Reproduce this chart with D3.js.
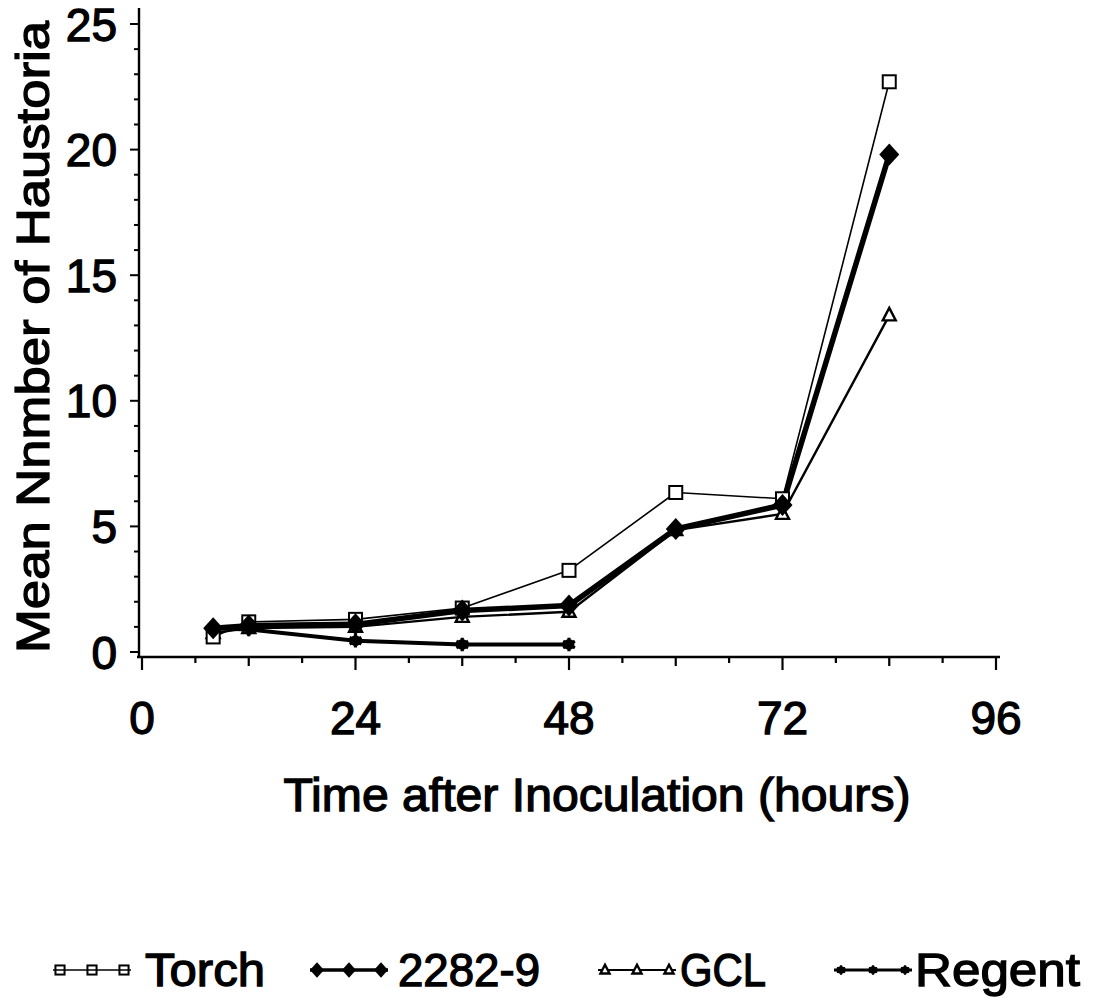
<!DOCTYPE html>
<html><head><meta charset="utf-8">
<script src="https://cdn.jsdelivr.net/npm/d3@7"></script>
<style>
body{margin:0;background:#fff;}
text{font-family:"Liberation Sans",Arial,Helvetica,sans-serif;fill:#000;font-weight:normal;stroke:#000;stroke-width:1.3px;}
</style>
</head><body>
<svg id="c" width="1119" height="1002"></svg>
<script>
// ---- data ----
const hours   = [8, 12, 24, 36, 48, 60, 72, 84];
const torch   = [0.6, 1.2, 1.3, 1.75, 3.25, 6.35, 6.1, 22.7];
const line2282 = [0.95, 1.05, 1.1, 1.65, 1.85, 4.9, 5.85, 19.8];
const gcl     = [0.75, 0.95, 1.0, 1.4, 1.6, 4.85, 5.5, 13.4];
const regentHours = [8, 12, 24, 36, 48];
const regent  = [0.95, 0.9, 0.45, 0.3, 0.3];
const seriesNames = ["Torch", "2282-9", "GCL", "Regent"];
const xTickLabels = [0, 24, 48, 72, 96];
const yTickLabels = [0, 5, 10, 15, 20, 25];

// ---- setup ----
const svg = d3.select("#c");
const x = d3.scaleLinear().domain([0, 96]).range([142, 996]);
const y = d3.scaleLinear().domain([0, 25]).range([652, 24]);
const axisY = 657, axisX = 139;
const FS = 46;

// x axis
const gx = svg.append("g").attr("transform", `translate(0,${axisY})`);
gx.append("line").attr("x1", 137).attr("x2", 1000).attr("y1", 0).attr("y2", 0)
  .attr("stroke", "#000").attr("stroke-width", 2.4);
gx.selectAll("line.tk").data(d3.range(0, 97, 6)).join("line").attr("class", "tk")
  .attr("x1", d => x(d)).attr("x2", d => x(d)).attr("y1", 0)
  .attr("y2", d => d % 24 === 0 ? 13 : (d % 12 === 0 ? 9 : 6))
  .attr("stroke", "#000").attr("stroke-width", 2.2);
gx.selectAll("text").data(xTickLabels).join("text")
  .attr("x", d => x(d)).attr("y", 77).attr("text-anchor", "middle")
  .attr("font-size", FS).text(d => d);

// y axis
const gy = svg.append("g").attr("transform", `translate(${axisX},0)`);
gy.append("line").attr("x1", 0).attr("x2", 0).attr("y1", axisY).attr("y2", 8)
  .attr("stroke", "#000").attr("stroke-width", 2.4);
gy.selectAll("line.tk").data(d3.range(0, 26, 1)).join("line").attr("class", "tk")
  .attr("x1", 0).attr("x2", d => d % 5 === 0 ? -9 : -5)
  .attr("y1", d => y(d)).attr("y2", d => y(d))
  .attr("stroke", "#000").attr("stroke-width", 2);
gy.selectAll("text").data(yTickLabels).join("text")
  .attr("x", -22).attr("y", d => y(d)).attr("dy", "0.36em").attr("text-anchor", "end")
  .attr("font-size", FS).text(d => d);

// axis titles
svg.append("text").attr("x", 597).attr("y", 811).attr("text-anchor", "middle")
  .attr("font-size", FS).attr("textLength", 627).attr("lengthAdjust", "spacingAndGlyphs")
  .text("Time after Inoculation (hours)");
svg.append("text").attr("transform", "translate(49,337) rotate(-90)")
  .attr("text-anchor", "middle").attr("font-size", FS)
  .attr("textLength", 632).attr("lengthAdjust", "spacingAndGlyphs")
  .text("Mean Nnmber of Haustoria");

// ---- markers ----
function drawMarker(g, type, cx, cy, scale, legendMode) {
  const s = scale || 1;
  if (type === "square") {
    g.append("rect").attr("x", cx - 6.5*s).attr("y", cy - 6.5*s).attr("width", 13*s).attr("height", 13*s)
      .attr("fill", legendMode ? "none" : "#fff").attr("stroke", "#000").attr("stroke-width", 2);
  } else if (type === "diamond") {
    g.append("path").attr("d", `M${cx},${cy-11*s}L${cx+10*s},${cy}L${cx},${cy+11*s}L${cx-10*s},${cy}Z`)
      .attr("fill", "#000");
  } else if (type === "triangle") {
    g.append("path").attr("d", `M${cx},${cy-7.5*s}L${cx+6.5*s},${cy+5*s}L${cx-6.5*s},${cy+5*s}Z`)
      .attr("fill", "#fff").attr("stroke", "#000").attr("stroke-width", 2.4);
  } else if (type === "star") {
    g.append("circle").attr("cx", cx).attr("cy", cy).attr("r", 5.5*s).attr("fill", "#000");
    g.append("path").attr("transform", `translate(${cx},${cy})`)
      .attr("d", d3.symbol(d3.symbolAsterisk, 130*s*s)())
      .attr("fill", "none").attr("stroke", "#000").attr("stroke-width", 3.2*s);
  }
}

const series = [
  {name: seriesNames[3], xs: regentHours, ys: regent, type: "star", lw: 4},
  {name: seriesNames[2], xs: hours, ys: gcl, type: "triangle", lw: 2.4},
  {name: seriesNames[0], xs: hours, ys: torch, type: "square", lw: 1.6},
  {name: seriesNames[1], xs: hours, ys: line2282, type: "diamond", lw: 5.5},
];
const lineGen = d3.line().x(d => x(d[0])).y(d => y(d[1]));
const plot = svg.append("g");
series.forEach(s => {
  plot.append("path").attr("d", lineGen(s.xs.map((h, i) => [h, s.ys[i]])))
    .attr("fill", "none").attr("stroke", "#000").attr("stroke-width", s.lw)
    .attr("stroke-linejoin", "round");
});
series.forEach(s => {
  s.xs.forEach((h, i) => drawMarker(plot, s.type, x(h), y(s.ys[i])));
});

// ---- legend ----
const legend = [
  {name: seriesNames[0], type: "square", lw: 1.6, x0: 53, tx: 145, tl: 120},
  {name: seriesNames[1], type: "diamond", lw: 3.5, x0: 310, tx: 398, tl: 142},
  {name: seriesNames[2], type: "triangle", lw: 2, x0: 598, tx: 680, tl: 86},
  {name: seriesNames[3], type: "star", lw: 3, x0: 834, tx: 915, tl: 165},
];
const lg = svg.append("g");
const ly = 970;
legend.forEach(l => {
  lg.append("line").attr("x1", l.x0).attr("x2", l.x0 + 78).attr("y1", ly).attr("y2", ly)
    .attr("stroke", "#000").attr("stroke-width", l.lw);
  [0, 1, 2].forEach(k => drawMarker(lg, l.type, l.x0 + 7 + k * 32, ly, 0.7, true));
  lg.append("text").attr("x", l.tx).attr("y", 986).attr("font-size", FS)
    .attr("textLength", l.tl).attr("lengthAdjust", "spacingAndGlyphs").text(l.name);
});
</script>
</body></html>
